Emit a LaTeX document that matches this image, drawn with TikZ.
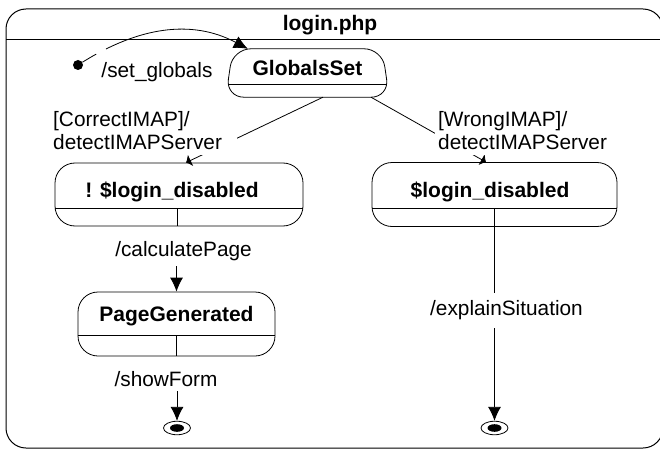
\documentclass[tikz,border=0pt]{standalone}
\usepackage{fontspec}
\setmainfont{Liberation Sans}
\usetikzlibrary{arrows.meta,shapes.geometric}
\begin{document}
\begin{tikzpicture}[x=1pt,y=-1pt,
  every node/.style={font=\fontsize{20.8}{23}\selectfont},
  statebox/.style={draw, line width=0.8pt, rounded corners=20pt, inner sep=0pt},
  stname/.style={font=\fontsize{21}{23}\selectfont\bfseries, inner sep=0pt},
  lbl/.style={fill=white, inner xsep=3pt, inner ysep=5pt, align=left},
  conn/.style={line width=0.8pt},
  tip/.style={-{Latex[length=14pt,width=13pt]}},
  smalltip/.style={-{Latex[length=5pt,width=13pt]}},
  final/.style={ellipse, draw, line width=0.8pt, minimum width=27pt, minimum height=13.5pt, inner sep=0pt},
  sepline/.style={line width=0.8pt},
]
\useasboundingbox (0,0) rectangle (660,449);
% frame
\draw[line width=1pt, rounded corners=20pt] (6,9) rectangle (663,448);
\draw[line width=1pt] (6,40) -- (663,40);
\node[stname] (title) at (330,25) {login.php};

% GlobalsSet
\node[minimum width=163pt, minimum height=48pt, inner sep=0pt] (gs) at (307.5,73) {};
\draw[line width=0.8pt, rounded corners=18pt] (gs.north) -- ([xshift=-7pt]gs.north east) -- (gs.south east) -- (gs.south west) -- ([xshift=7pt]gs.north west) -- cycle;
\node[stname] (gst) at (307.5,68) {GlobalsSet};
\draw[sepline] ([xshift=2pt]gs.west |- 0,84) -- ([xshift=-2pt]gs.east |- 0,84);

% left state
\node[statebox, minimum width=248pt, minimum height=63pt] (lnd) at (179,194.5) {};
\node[stname] (lndt) at (172,192) {! \$login\_disabled};
\draw[sepline] (lnd.west |- 0,208) -- (lnd.east |- 0,208);

% right state
\node[statebox, minimum width=245pt, minimum height=64pt] (rnd) at (494.5,194.5) {};
\node[stname] (rndt) at (490,192) {\$login\_disabled};
\draw[sepline] (rnd.west |- 0,208) -- (rnd.east |- 0,208);

% PageGenerated
\node[statebox, minimum width=197pt, minimum height=64pt] (pg) at (176.5,324) {};
\node[stname] (pgt) at (176.5,316.5) {PageGenerated};
\draw[sepline] (pg.west |- 0,335) -- (pg.east |- 0,335);

% initial
\node[circle, fill, inner sep=0pt, minimum size=10pt] (init) at (78,65) {};
\draw[conn, tip, dash pattern=on 16pt off 11pt on 400pt] (init) to[out=32,in=152] ([xshift=22pt]gs.north west);
\node (setg) at (157,72) {/set\_globals};

% guards
\coordinate (gsL) at ([xshift=15.5pt]gs.south);
\coordinate (gsR) at ([xshift=63.5pt]gs.south);
\draw[conn, smalltip] (gsL) -- ([xshift=7pt]lnd.north);
\draw[conn, smalltip] (gsR) -- ([xshift=-8.5pt]rnd.north);
\node[lbl, anchor=west, text width=181pt] (lcl) at (50,131) {[CorrectIMAP]/\\detectIMAPServer};
\node[lbl, anchor=west] (rcl) at (435,131) {[WrongIMAP]/\\detectIMAPServer};

% finals
\node[final] (f1) at (177,428) {};
\fill (f1.center) ellipse [x radius=7pt, y radius=3.8pt];
\node[final] (f2) at (494.5,428) {};
\fill (f2.center) ellipse [x radius=7pt, y radius=3.8pt];

% left chain
\node[lbl] (calc) at (183.5,251.5) {/calculatePage};
\draw[conn] ([xshift=-1.5pt]lnd.center |- 0,208) -- ([xshift=-1.5pt]lnd.south);
\draw[conn, tip] (calc.south -| pg.north) -- (pg.north);
\node[lbl, inner ysep=4pt] (show) at (166,379.5) {/showForm};
\draw[conn] (pg.center |- 0,335) -- (pg.south);
\draw[conn, tip] (show.south -| f1.north) -- (f1.north);

% right chain
\node[lbl, inner ysep=8pt] (expl) at (506.5,310.5) {/explainSituation};
\draw[conn] (rnd.center |- 0,208) -- (expl.north -| rnd.center);
\draw[conn, tip] (expl.south -| f2.north) -- (f2.north);
\end{tikzpicture}
\end{document}
